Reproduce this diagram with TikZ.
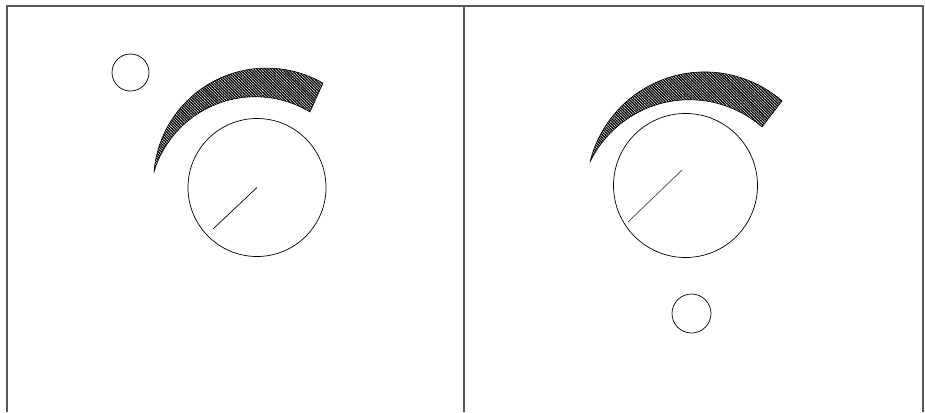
\documentclass[tikz,border=0pt]{standalone}
\usepackage{tikz}
\usepackage{xcolor}
\usetikzlibrary{patterns.meta,calc}
\definecolor{frameGray}{RGB}{88,90,78}
\definecolor{needleOlive}{RGB}{70,70,55}
\tikzset{
  frame/.style={draw=frameGray, line width=1.3pt},
  dial/.style={draw, circle, inner sep=0pt, line width=0.7pt},
  knob/.style={draw, circle, inner sep=0pt, line width=0.7pt},
  needle/.style={line width=0.7pt},
  crescent/.style={draw, line width=0.6pt, pattern={Lines[angle=-45,distance=2pt,line width=1.3pt]}}
}

\begin{document}
\begin{tikzpicture}[x=1pt,y=-1pt]
  \useasboundingbox (0,0) rectangle (925,412);

  % panel frame
  \draw[frame] (7,412) -- (7,6) -- (923,6) -- (923,412);
  \draw[frame] (464,6) -- (464,412);

  % left panel
  \node[knob, minimum size=37pt] (knobL) at (130.5,72.5) {};
  \node[dial, minimum size=138pt] (dialL) at (257,187.5) {};
  \draw[needle] (dialL.center) -- ++(-44,41.5);
  \draw[crescent] (154,172) arc[start angle=184.6, end angle=299.9, radius=113]
    -- (310,112) arc[start angle=301.1, end angle=196.9, radius=105.9] -- cycle;

  % right panel
  \node[knob, minimum size=39pt] (knobR) at (691.5,313.5) {};
  \node[dial, minimum size=144pt] (dialR) at (685.5,185.5) {};
  \draw[needle, draw=needleOlive] ($(dialR.center)+(-3.5,-15.5)$) -- (628,222);
  \draw[crescent] (590,162) arc[start angle=193.7, end angle=311, radius=118]
    -- (762,127) arc[start angle=311.1, end angle=205.9, radius=110.5] -- cycle;
\end{tikzpicture}
\end{document}
